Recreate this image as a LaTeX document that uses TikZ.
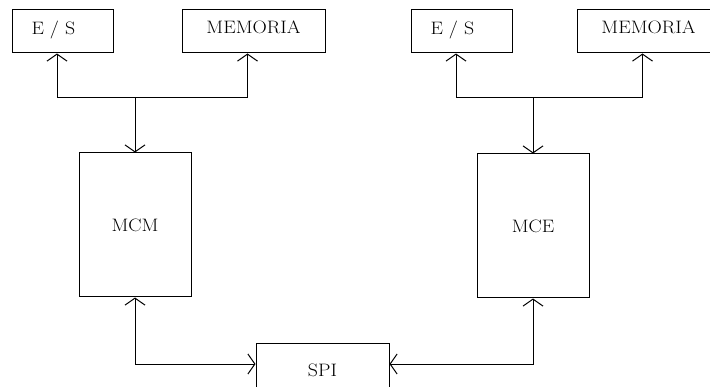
\documentclass[tikz,border=0pt]{standalone}
\usepackage{fontspec}
\setmainfont{Latin Modern Roman}[FakeStretch=1.1]
\usetikzlibrary{arrows.meta}

\begin{document}
\begin{tikzpicture}[
    x=1pt, y=1pt,
    >={Straight Barb[length=7pt,width=20pt]},
    line width=1pt,
    every node/.style={font=\fontsize{18}{21}\selectfont},
    iobox/.style={
        draw,
        minimum height=43pt,
        text width=63pt,
        text depth=8pt,
        inner xsep=19pt,
        align=left
    },
    membox/.style={draw, minimum width=143pt, minimum height=43pt, text depth=8pt},
    cpubox/.style={draw, minimum width=112pt, minimum height=144pt},
    spibox/.style={draw, minimum width=133pt, minimum height=54pt}
]
\useasboundingbox (0,0) rectangle (710,386);

% ---------------- MCM SIDE ----------------
\node[iobox]  (ESM)  at (63,354.5)  {E / S};
\node[membox] (MEMM) at (253.5,354.5) {MEMORIA};
\node[cpubox] (MCM)  at (135,161)   {MCM};
\coordinate   (busM) at (135,288);

% ---------------- MCE SIDE ----------------
\node[iobox]  (ESE)  at (462,354.5) {E / S};
\node[membox] (MEME) at (648.5,354.5) {MEMORIA};
\node[cpubox] (MCE)  at (533,160)   {MCE};
\coordinate   (busE) at (533,288);

% ---------------- LINK ----------------
\node[spibox] (SPI)  at (322.5,16)  {SPI};

% Buses:
\draw[->] (busM) -- (MCM.north);
\draw[->] (busM) -| ([xshift=-6pt]ESM.south);
\draw[->] (busM) -| ([xshift=-6pt]MEMM.south);
\draw[->] (busE) -- (MCE.north);
\draw[->] (busE) -| ([xshift=-6pt]ESE.south);
\draw[->] (busE) -| ([xshift=-6pt]MEME.south);

% SPI:
\draw[<->] (MCM.south) |- ([yshift=6pt]SPI.west);
\draw[<->] (MCE.south) |- ([yshift=6pt]SPI.east);

\end{tikzpicture}
\end{document}
